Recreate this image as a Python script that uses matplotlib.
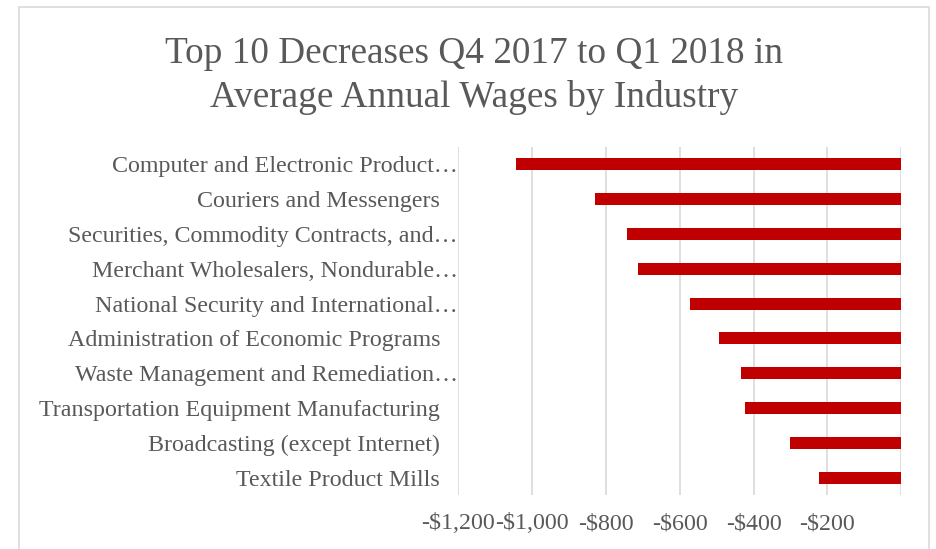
import matplotlib
matplotlib.use("Agg")
import matplotlib.pyplot as plt
from matplotlib.patches import Rectangle

categories = [
    "Computer and Electronic Product\u2026",
    "Couriers and Messengers   ",
    "Securities, Commodity Contracts, and\u2026",
    "Merchant Wholesalers, Nondurable\u2026",
    "National Security and International\u2026",
    "Administration of Economic Programs   ",
    "Waste Management and Remediation\u2026",
    "Transportation Equipment Manufacturing   ",
    "Broadcasting (except Internet)   ",
    "Textile Product Mills   ",
]
values = [-1044, -829, -742, -714, -571, -494, -435, -423, -300, -223]
xticks = [-1200, -1000, -800, -600, -400, -200, 0]
xtick_labels = ["-$1,200", "-$1,000", "-$800", "-$600", "-$400", "-$200", ""]
title = "Top 10 Decreases Q4 2017 to Q1 2018 in\nAverage Annual Wages by Industry"

plt.rcParams['font.family'] = ['Liberation Serif', 'DejaVu Serif']

W, H = 936, 549
fig = plt.figure(figsize=(W / 100, H / 100), dpi=100)
fig.patch.set_facecolor("white")

# outer chart border
fig.patches.append(Rectangle((19 / W, -0.02), (929 - 19) / W, (549 - 7) / H + 0.02,
                             transform=fig.transFigure, fill=False,
                             edgecolor="#d9d9d9", linewidth=1.2))

left, right, top, bottom = 458, 901.3, 147, 495
ax = fig.add_axes([left / W, 1 - bottom / H, (right - left) / W, (bottom - top) / H])

y = list(range(len(categories)))
ax.barh(y, values, height=0.35, color="#c00000", zorder=3)
ax.set_ylim(len(categories) - 0.5, -0.5)
ax.set_xlim(-1200, 0)
ax.set_xticks(xticks)
ax.set_xticklabels(xtick_labels)
ax.set_yticks(y)
ax.set_yticklabels(categories)

ax.grid(axis="x", color="#d9d9d9", linewidth=1.2, zorder=0)
for s in ax.spines.values():
    s.set_visible(False)
ax.tick_params(axis="both", length=0, labelcolor="#595959", labelsize=17.3)
ax.tick_params(axis="y", pad=0)
ax.tick_params(axis="x", pad=13)

fig.text(474 / W, 1 - 75.5 / H, title, ha="center", va="center",
         fontsize=26.8, color="#595959", linespacing=1.32)

fig.savefig("out.png", dpi=100)
